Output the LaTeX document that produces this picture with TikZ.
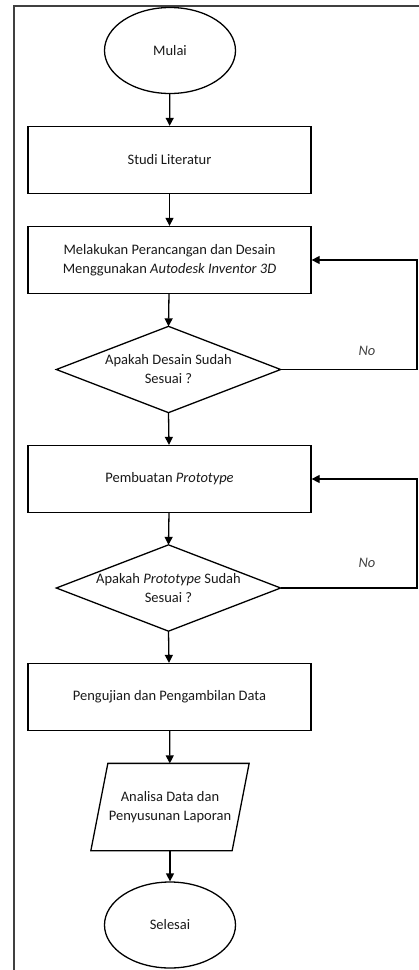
\documentclass[tikz,border=0pt]{standalone}
\usepackage{fontspec}
\setmainfont{Carlito}
\usetikzlibrary{arrows.meta,shapes.geometric}
\begin{document}
\begin{tikzpicture}[x=1pt,y=-1pt,
  line width=1.3pt,
  every node/.style={font=\fontsize{14.5}{19}\selectfont, text=black!90},
  box/.style={draw, rectangle, minimum width=283pt, minimum height=67pt, inner sep=0pt, align=center},
  term/.style={draw, ellipse, minimum width=131pt, minimum height=86pt, inner sep=0pt},
  decbox/.style={rectangle, minimum width=223pt, minimum height=85pt, inner sep=0pt, align=center},
  iobox/.style={rectangle, minimum width=140pt, minimum height=86pt, inner sep=0pt, align=center},
  arr/.style={-{Triangle[length=8pt,width=8pt]}},
  nolabel/.style={font=\fontsize{14.5}{17}\selectfont\itshape, text=black!75}
]
\useasboundingbox (0,0) rectangle (419,970);
% frame
\draw[line width=1.5pt, black!75] (419,6) -- (14,6) -- (14,970);

\node[term] (mulai) at (170,50.5) {Mulai};
\node[box] (studi) at (169.5,160) {Studi Literatur};
\node[box] (rancang) at (169.5,260) {Melakukan Perancangan dan Desain\\Menggunakan \textit{Autodesk Inventor 3D}};
\node[decbox] (d1) at (168.5,369.5) {Apakah Desain Sudah\\Sesuai ?};
\draw (d1.north) -- (d1.east) -- (d1.south) -- (d1.west) -- cycle;
\node[box] (proto) at (169.5,479) {Pembuatan \textit{Prototype}};
\node[decbox] (d2) at (168.5,588) {Apakah \textit{Prototype} Sudah\\Sesuai ?};
\draw (d2.north) -- (d2.east) -- (d2.south) -- (d2.west) -- cycle;
\node[box] (uji) at (169.5,697) {Pengujian dan Pengambilan Data};
\node[iobox] (analisa) at (170,807) {Analisa Data dan\\Penyusunan Laporan};
\draw ([xshift=8.5pt]analisa.north west) -- ([xshift=8.5pt]analisa.north east)
      -- ([xshift=-8.5pt]analisa.south east) -- ([xshift=-8.5pt]analisa.south west) -- cycle;
\node[term] (selesai) at (170,925) {Selesai};

\draw[arr] (mulai) -- (studi);
\draw[arr] (studi) -- (rancang);
\draw[arr] (rancang) -- (d1.north);
\draw[arr] (d1.south) -- (proto);
\draw[arr] (proto) -- (d2.north);
\draw[arr] (d2.south) -- (uji);
\draw[arr] (uji) -- (analisa);
\draw[arr] (analisa) -- (selesai);

\coordinate (l1a) at (417,369.5);
\coordinate (l1b) at (417,260);
\draw[arr] (d1.east) -- (l1a) -- (l1b) -- (rancang.east);
\coordinate (l2a) at (417,588);
\coordinate (l2b) at (417,479);
\draw[arr] (d2.east) -- (l2a) -- (l2b) -- (proto.east);

\node[nolabel] (no1) at (367,351) {No};
\node[nolabel] (no2) at (367,563) {No};
\end{tikzpicture}
\end{document}
